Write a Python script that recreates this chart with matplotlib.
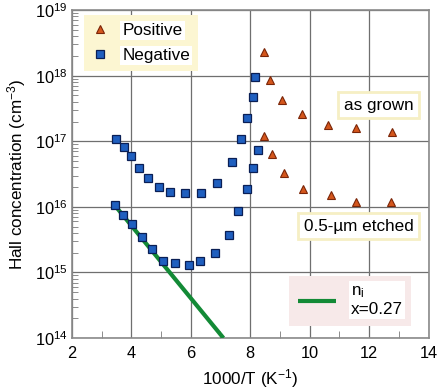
import numpy as np
import matplotlib
matplotlib.use("Agg")
import matplotlib.pyplot as plt
from matplotlib.ticker import LogLocator, LogFormatterMathtext, MultipleLocator, NullFormatter
from matplotlib.lines import Line2D

plt.rcParams['font.family'] = ['Liberation Sans', 'DejaVu Sans']
plt.rcParams['mathtext.fontset'] = 'custom'
plt.rcParams['mathtext.rm'] = 'Liberation Sans'
plt.rcParams['mathtext.default'] = 'regular'

# negative (n-type) Hall data
x_neg_grown = [3.47, 3.75, 3.99, 4.26, 4.56, 4.92, 5.31, 5.82, 6.36, 6.90, 7.38, 7.70, 7.90, 8.08, 8.17]
n_neg_grown = [1.1e17, 8.3e16, 5.9e16, 3.9e16, 2.8e16, 2.0e16, 1.7e16, 1.6e16, 1.6e16, 2.3e16,
               4.9e16, 1.1e17, 2.3e17, 4.7e17, 9.6e17]
x_neg_etch = [3.45, 3.71, 4.03, 4.37, 4.71, 5.07, 5.48, 5.93, 6.32, 6.83, 7.29, 7.60, 7.88, 8.08, 8.25]
n_neg_etch = [1.05e16, 7.4e15, 5.4e15, 3.5e15, 2.3e15, 1.5e15, 1.4e15, 1.3e15, 1.5e15, 2.0e15,
              3.7e15, 8.6e15, 1.9e16, 3.9e16, 7.4e16]

# positive (p-type) Hall data
x_pos_grown = [8.45, 8.66, 9.07, 9.75, 10.61, 11.55, 12.76]
n_pos_grown = [2.3e18, 8.7e17, 4.3e17, 2.6e17, 1.8e17, 1.6e17, 1.4e17]
x_pos_etch = [8.48, 8.72, 9.13, 9.76, 10.71, 11.57, 12.72]
n_pos_etch = [1.2e17, 6.3e16, 3.3e16, 1.9e16, 1.5e16, 1.2e16, 1.2e16]

# intrinsic carrier concentration, x=0.27
x_ni = [3.45, 7.1]
n_ni = [1.05e16, 1.0e14]

fs = 12.3

fig = plt.figure(figsize=(4.46, 3.89), dpi=100)
ax = fig.add_axes([0.161, 0.131, 0.8, 0.843])

sq = dict(marker='s', ms=5.2, mfc='#1f5fbf', mec='#0a1f55', mew=0.9, ls='none', zorder=4)
tri = dict(marker='^', ms=5.8, mfc='#d4561c', mec='#7a2508', mew=0.8, ls='none', zorder=4)

ni_line, = ax.plot(x_ni, n_ni, color='#138a36', lw=3, zorder=3, solid_capstyle='butt')
ax.plot(x_neg_grown, n_neg_grown, **sq)
ax.plot(x_neg_etch, n_neg_etch, **sq)
ax.plot(x_pos_grown, n_pos_grown, **tri)
ax.plot(x_pos_etch, n_pos_etch, **tri)

ax.set_yscale('log')
ax.set_xlim(2, 14)
ax.set_ylim(1e14, 1e19)
ax.xaxis.set_major_locator(MultipleLocator(2))
ax.xaxis.set_minor_locator(MultipleLocator(1))
ax.yaxis.set_major_locator(LogLocator(base=10, numticks=10))
ax.yaxis.set_major_formatter(LogFormatterMathtext())
ax.yaxis.set_minor_locator(LogLocator(base=10, subs=np.arange(2, 10), numticks=20))
ax.yaxis.set_minor_formatter(NullFormatter())
ax.grid(True, which='major', color='#6f6f6f', lw=0.9)
ax.set_axisbelow(True)
for s in ax.spines.values():
    s.set_color('#8a8a8a')
    s.set_linewidth(1.2)
ax.tick_params(which='both', direction='in', color='#7a7a7a', labelsize=11.8)
ax.tick_params(which='major', length=0, pad=6)
ax.tick_params(axis='y', which='major', pad=3)
ax.tick_params(which='minor', length=4)
ax.tick_params(axis='x', which='minor', length=5)

ax.set_xlabel('1000/T (K$^{-1}$)', fontsize=fs, labelpad=4)
ax.set_ylabel('Hall concentration (cm$^{-3}$)', fontsize=fs, labelpad=5)

h_pos = Line2D([], [], **tri)
h_neg = Line2D([], [], **sq)
leg = ax.legend([h_pos, h_neg], ['Positive', 'Negative'], loc='upper left',
                bbox_to_anchor=(0.034, 0.985), borderaxespad=0, fontsize=fs, frameon=True,
                fancybox=False, facecolor='#fcf6d2', edgecolor='none', framealpha=1,
                handlelength=1, handletextpad=0.8, borderpad=0.45, labelspacing=0.6)
for t in leg.get_texts():
    t.set_bbox(dict(facecolor='white', edgecolor='none', pad=1.5))

box_kw = dict(facecolor='white', edgecolor='#f6efc4', lw=2, pad=4)
ax.text(0.958, 0.71, 'as grown', fontsize=fs, ha='right', va='center',
        transform=ax.transAxes, bbox=box_kw)
ax.text(0.958, 0.341, '0.5-µm etched', fontsize=fs, ha='right', va='center',
        transform=ax.transAxes, bbox=box_kw)

leg2 = ax.legend([ni_line], ['n$_{i}$\nx=0.27'], loc='lower right',
                 bbox_to_anchor=(0.952, 0.037), borderaxespad=0, fontsize=fs, frameon=True,
                 fancybox=False, facecolor='#f7e9e9', edgecolor='none', framealpha=1,
                 handlelength=2.2, handletextpad=0.9, borderpad=0.5, labelspacing=0.2)
for t in leg2.get_texts():
    t.set_bbox(dict(facecolor='white', edgecolor='none', pad=1.5))
ax.add_artist(leg)

fig.savefig('out.png', dpi=100)
